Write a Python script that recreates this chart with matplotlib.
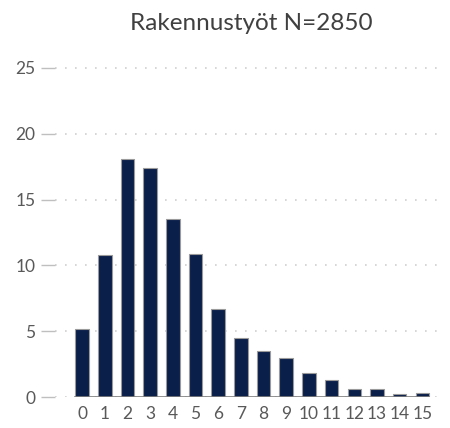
import matplotlib
matplotlib.use("Agg")
import matplotlib.pyplot as plt

# Data
categories = [str(i) for i in range(16)]
values = [5.2, 10.8, 18.1, 17.4, 13.5, 10.9, 6.7, 4.5, 3.5, 3.0, 1.8, 1.3, 0.65, 0.65, 0.25, 0.3]
yticks = [0, 5, 10, 15, 20, 25]
title = "Rakennustyöt N=2850"

bar_color = "#0b1f4b"
text_color = "#595959"
plt.rcParams["font.family"] = ["Lato", "DejaVu Sans"]

fig = plt.figure(figsize=(4.5, 4.28), dpi=100)
ax = fig.add_axes([0.122, 0.072, 0.867, 0.80])

x = list(range(len(values)))
width = 0.6
ax.bar(x, values, width=width, color=bar_color, edgecolor="#9a9a9a", linewidth=0.8, zorder=3)

# baseline under the bars
ax.plot([x[0] - width / 2, x[-1] + width / 2], [0, 0], color="#7f7f7f", lw=1.2, zorder=4)

ax.set_xlim(-1.2, 16.0)
ax.set_ylim(0, 26)
ax.set_yticks(yticks)
ax.set_xticks(x)
ax.set_xticklabels(categories)
ax.grid(axis="y", color="#cfcfcf", linestyle=(0, (1, 5)), linewidth=1.2, zorder=0)

for s in ax.spines.values():
    s.set_visible(False)
ax.tick_params(axis="y", length=10, width=1, color="#bfbfbf", pad=4, labelsize=12.5, labelcolor=text_color)
ax.tick_params(axis="x", length=0, pad=6, labelsize=12.5, labelcolor=text_color)

fig.text(0.558, 0.945, title, ha="center", va="center", fontsize=17.5, color="#404040")

fig.savefig("out.png", dpi=100)
